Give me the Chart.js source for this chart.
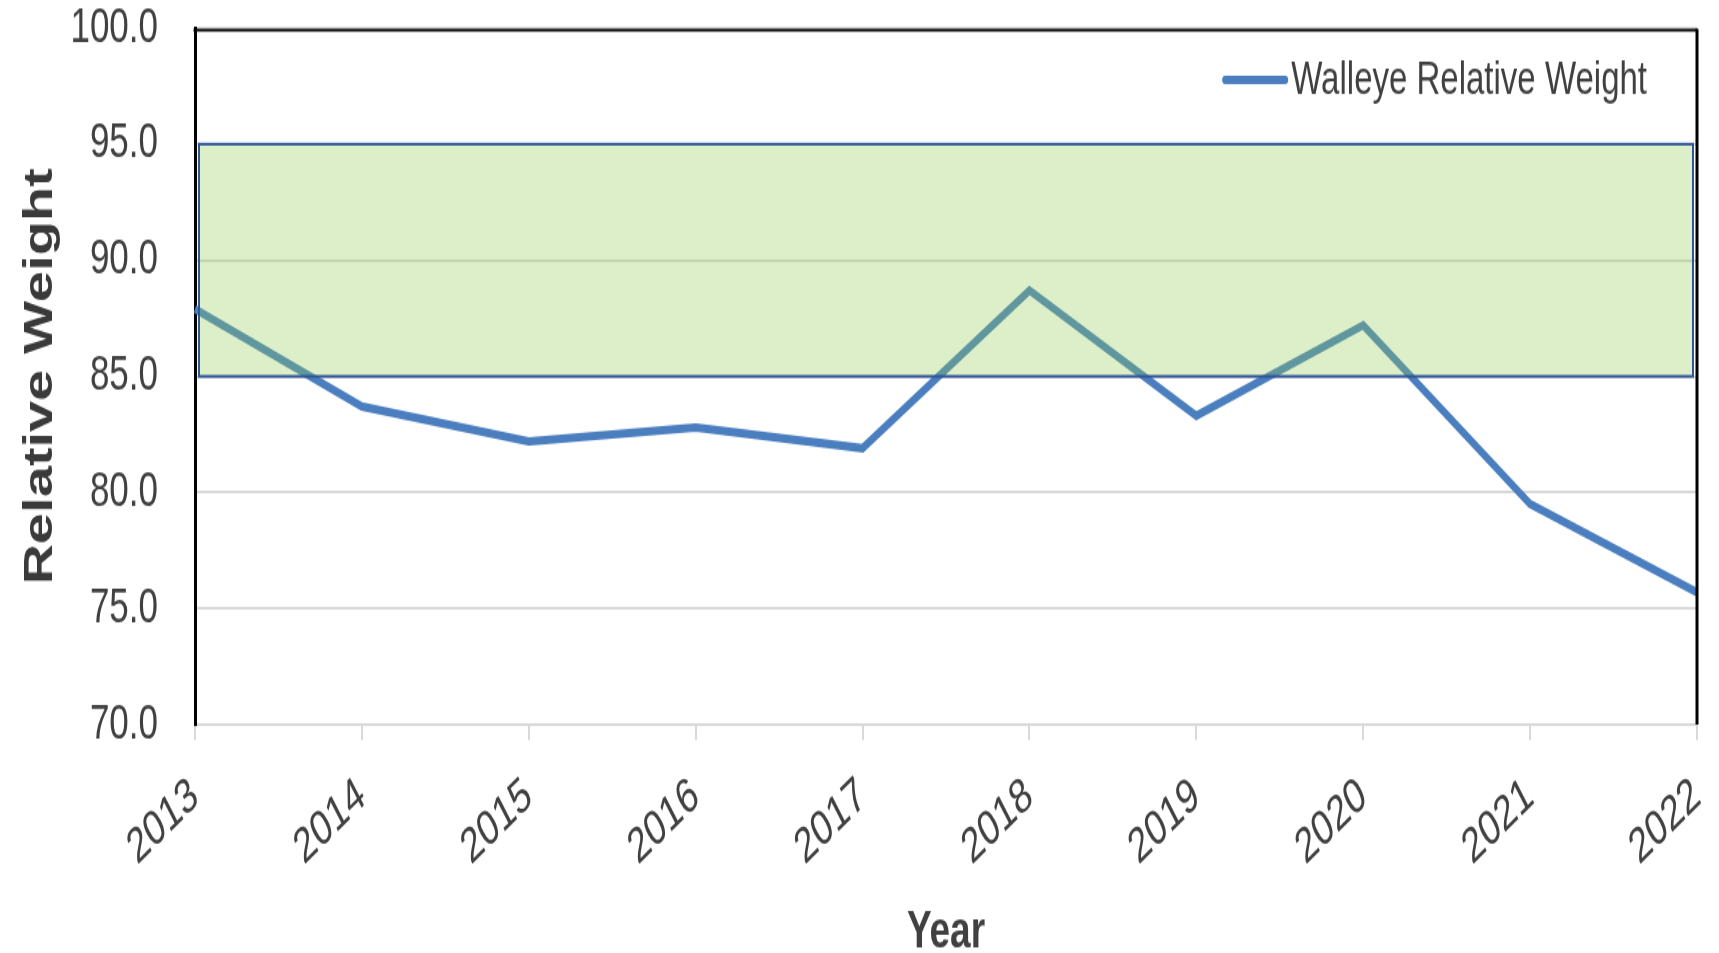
<!DOCTYPE html>
<html>
<head>
<meta charset="utf-8">
<script src="https://cdn.jsdelivr.net/npm/chart.js@4"></script>
<style>
  html, body { margin: 0; padding: 0; background: #ffffff; overflow: hidden; }
  #c { display: block; }
</style>
</head>
<body>
<!-- The source image is vertically stretched; the canvas is drawn at 1719x680 and shown at 1719x953 -->
<canvas id="c" width="1719" height="680" style="width:1719px;height:953px;"></canvas>
<script>
const years = ['2013','2014','2015','2016','2017','2018','2019','2020','2021','2022'];
const relativeWeight = [87.9, 83.7, 82.2, 82.8, 81.9, 88.7, 83.3, 87.2, 79.5, 75.7];
const targetRange = [85, 95];
const yTicks = [70, 75, 80, 85, 90, 95, 100];
const seriesLabel = 'Walleye Relative Weight';

const SANS = "'Liberation Sans', Arial, sans-serif";
const TEXT = '#404040';
const LINE = '#4A7EBF';

const bandPlugin = {
  id: 'band',
  afterDatasetsDraw(chart) {
    const {ctx, chartArea, scales} = chart;
    const y1 = scales.y.getPixelForValue(targetRange[1]);
    const y0 = scales.y.getPixelForValue(targetRange[0]);
    const x0 = chartArea.left + 4, x1 = chartArea.right - 4;
    ctx.save();
    ctx.fillStyle = 'rgba(146, 204, 80, 0.31)';
    ctx.fillRect(x0, y1, x1 - x0, y0 - y1);
    ctx.strokeStyle = '#2F5597';
    ctx.lineWidth = 2;
    ctx.strokeRect(x0, y1, x1 - x0, y0 - y1);
    ctx.restore();
  },
  afterDraw(chart) {
    const {ctx, chartArea} = chart;
    ctx.save();
    // top and right frame of the plot area
    ctx.strokeStyle = '#000000';
    ctx.lineWidth = 2.2;
    ctx.beginPath();
    ctx.moveTo(chartArea.left - 1.5, chartArea.top + 1.5);
    ctx.lineTo(chartArea.right, chartArea.top + 1.5);
    ctx.stroke();
    ctx.lineWidth = 3;
    ctx.beginPath();
    ctx.moveTo(chartArea.right, chartArea.top + 0.5);
    ctx.lineTo(chartArea.right, chartArea.bottom);
    ctx.stroke();
    // legend (inside the plot area, top right)
    const ds = chart.data.datasets[0];
    ctx.font = '33px ' + SANS;
    const tw = ctx.measureText(ds.label).width;
    const textRight = chartArea.right - 50;
    const textLeft = textRight - tw;
    const cy = chartArea.top + 37;
    ctx.strokeStyle = ds.borderColor;
    ctx.lineWidth = 6;
    ctx.lineCap = 'round';
    ctx.beginPath();
    ctx.moveTo(textLeft - 66, cy);
    ctx.lineTo(textLeft - 6, cy);
    ctx.stroke();
    ctx.fillStyle = TEXT;
    ctx.textAlign = 'left';
    ctx.textBaseline = 'middle';
    ctx.fillText(ds.label, textLeft, cy + 1);
    ctx.restore();
  }
};

new Chart(document.getElementById('c'), {
  type: 'line',
  data: {
    labels: years,
    datasets: [{
      label: seriesLabel,
      data: relativeWeight,
      borderColor: LINE,
      backgroundColor: LINE,
      borderWidth: 6,
      pointRadius: 0,
      tension: 0,
      borderJoinStyle: 'miter'
    }]
  },
  options: {
    responsive: false,
    animation: false,
    devicePixelRatio: 1,
    layout: { padding: { top: 20, right: 22, left: 0, bottom: 0 } },
    plugins: {
      legend: { display: false },
      tooltip: { enabled: false }
    },
    scales: {
      x: {
        offset: false,
        grid: {
          drawOnChartArea: false,
          drawTicks: true,
          tickLength: 11,
          color: '#D9D9D9',
          lineWidth: 2
        },
        border: { color: '#D9D9D9', width: 2 },
        ticks: {
          color: TEXT,
          font: { family: SANS, size: 35 },
          maxRotation: 35.5,
          minRotation: 35.5,
          padding: 19,
          autoSkip: false
        },
        title: {
          display: true,
          text: 'Year',
          color: TEXT,
          font: { family: SANS, size: 37, weight: 'bold', lineHeight: 1 },
          padding: { top: 0, bottom: -4 }
        },
        afterFit(scale) {
          scale.height = 163;
          scale.paddingLeft = 0; scale.paddingRight = 0;
        }
      },
      y: {
        min: 70,
        max: 100,
        afterBuildTicks(scale) { scale.ticks = yTicks.map(v => ({ value: v })); },
        grid: {
          color: '#D9D9D9',
          lineWidth: 2,
          drawTicks: false
        },
        border: { color: '#000000', width: 3 },
        ticks: {
          color: TEXT,
          font: { family: SANS, size: 35 },
          padding: 37,
          callback: (v) => Number(v).toFixed(1)
        },
        title: {
          display: true,
          text: 'Relative Weight',
          color: '#3A3A3A',
          font: { family: SANS, size: 40, weight: 'bold', lineHeight: 1 },
          padding: { top: 21, bottom: 0 }
        },
        afterFit(scale) {
          scale.width = 195;
          scale.paddingTop = 0; scale.paddingBottom = 0;
        }
      }
    }
  },
  plugins: [bandPlugin]
});
</script>
</body>
</html>
